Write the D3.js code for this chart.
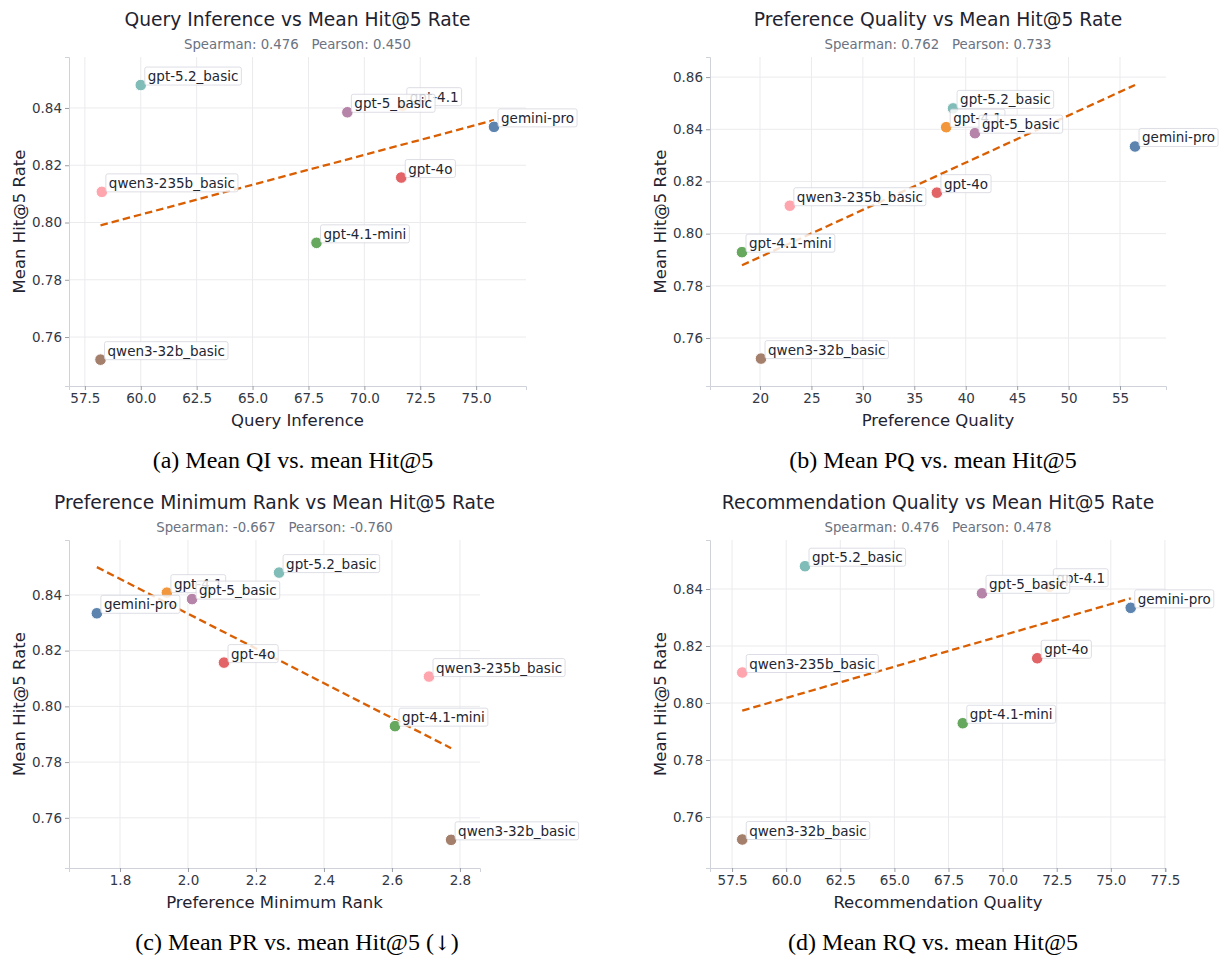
<!DOCTYPE html>
<html>
<head>
<meta charset="utf-8">
<script src="https://cdn.jsdelivr.net/npm/d3@7"></script>
<style>
  body { margin: 0; background: #fff; }
  text { font-family: "DejaVu Sans", sans-serif; }
</style>
</head>
<body>
<svg id="fig" width="1220" height="956"></svg>
<script>
// models, in drawing order (gpt-4.1 label sits under gpt-5_basic)
var models = ["gpt-5.2_basic", "gpt-4.1", "gpt-5_basic", "gemini-pro", "gpt-4o",
              "qwen3-235b_basic", "gpt-4.1-mini", "qwen3-32b_basic"];
var modelColors = ["#76b7b2", "#f28e2b", "#b07aa1", "#4e79a7", "#e15759",
                   "#ff9da7", "#59a14f", "#9c755f"];

var meanHit5 = [0.848, 0.8408, 0.8385, 0.8334, 0.8157, 0.8107, 0.7929, 0.7521];
var queryInference = [60.0, 71.72, 69.24, 75.8, 71.65, 58.26, 67.86, 58.2];
var prefQuality = [38.77, 38.1, 40.9, 56.46, 37.2, 22.9, 18.25, 20.1];
var prefMinRank = [2.268, 1.938, 2.012, 1.732, 2.106, 2.709, 2.609, 2.774];
var recQuality = [60.87, 72.16, 69.05, 75.92, 71.6, 57.97, 68.16, 57.97];

var ticksQI = [57.5, 60, 62.5, 65, 67.5, 70, 72.5, 75];
var ticksPQ = [20, 25, 30, 35, 40, 45, 50, 55];
var ticksPR = [1.8, 2.0, 2.2, 2.4, 2.6, 2.8];
var ticksRQ = [57.5, 60, 62.5, 65, 67.5, 70, 72.5, 75, 77.5];
var ticksHit = [0.76, 0.78, 0.80, 0.82, 0.84];
var ticksHitB = [0.76, 0.78, 0.80, 0.82, 0.84, 0.86];

var panels = [
  { title: "Query Inference vs Mean Hit@5 Rate", sub: "Spearman: 0.476   Pearson: 0.450",
    xlabel: "Query Inference", caption: "(a) Mean QI vs. mean Hit@5", arrow: false,
    xs: queryInference, xticks: ticksQI, yticks: ticksHit, xfmt: ".1f",
    box: [69, 526, 57, 386], xdom: [56.79, 77.23], ydom: [0.7429, 0.8578], capX: 293 },
  { title: "Preference Quality vs Mean Hit@5 Rate", sub: "Spearman: 0.762   Pearson: 0.733",
    xlabel: "Preference Quality", caption: "(b) Mean PQ vs. mean Hit@5", arrow: false,
    xs: prefQuality, xticks: ticksPQ, yticks: ticksHitB, xfmt: "d",
    box: [710, 1166, 57, 386], xdom: [15.14, 59.47], ydom: [0.7416, 0.8677], capX: 933 },
  { title: "Preference Minimum Rank vs Mean Hit@5 Rate", sub: "Spearman: -0.667   Pearson: -0.760",
    xlabel: "Preference Minimum Rank", caption: "(c) Mean PR vs. mean Hit@5 ", arrow: true,
    xs: prefMinRank, xticks: ticksPR, yticks: ticksHit, xfmt: ".1f",
    box: [69, 480, 540, 868], xdom: [1.65, 2.859], ydom: [0.742, 0.8597], capX: 297 },
  { title: "Recommendation Quality vs Mean Hit@5 Rate", sub: "Spearman: 0.476   Pearson: 0.478",
    xlabel: "Recommendation Quality", caption: "(d) Mean RQ vs. mean Hit@5", arrow: false,
    xs: recQuality, xticks: ticksRQ, yticks: ticksHit, xfmt: ".1f",
    box: [710, 1166, 540, 868], xdom: [56.48, 77.55], ydom: [0.7421, 0.8572], capX: 933 }
];

var svg = d3.select("#fig");

function fit(xs, ys) {
  var mx = d3.mean(xs), my = d3.mean(ys);
  var num = d3.sum(xs, function(x, i) { return (x - mx) * (ys[i] - my); });
  var den = d3.sum(xs, function(x) { return (x - mx) * (x - mx); });
  var b = num / den;
  return function(x) { return my + b * (x - mx); };
}

panels.forEach(function(p) {
  var L = p.box[0], R = p.box[1], T = p.box[2], B = p.box[3];
  var cx = (L + R) / 2;
  var x = d3.scaleLinear().domain(p.xdom).range([L, R]);
  var y = d3.scaleLinear().domain(p.ydom).range([B, T]);
  var g = svg.append("g");

  // grid
  g.selectAll(".gx").data(p.xticks).enter().append("line")
    .attr("x1", function(d) { return x(d); }).attr("x2", function(d) { return x(d); })
    .attr("y1", T).attr("y2", B).attr("stroke", "#ebebee").attr("stroke-width", 1);
  g.selectAll(".gy").data(p.yticks).enter().append("line")
    .attr("y1", function(d) { return y(d); }).attr("y2", function(d) { return y(d); })
    .attr("x1", L).attr("x2", R).attr("stroke", "#ebebee").attr("stroke-width", 1);

  // axes
  var xa = g.append("g").attr("transform", "translate(0," + B + ")")
    .call(d3.axisBottom(x).tickValues(p.xticks).tickFormat(d3.format(p.xfmt)).tickSizeOuter(0).tickSize(4).tickPadding(3));
  var ya = g.append("g").attr("transform", "translate(" + L + ",0)")
    .call(d3.axisLeft(y).tickValues(p.yticks).tickFormat(d3.format(".2f")).tickSizeOuter(0).tickSize(4).tickPadding(3));
  [xa, ya].forEach(function(a) {
    a.select(".domain").attr("stroke", "#cfd2d8");
    a.selectAll(".tick line").attr("stroke", "#9a9ea6");
    a.selectAll(".tick text").attr("fill", "#333844").style("font-size", "13.5px")
      .style("font-family", "DejaVu Sans, sans-serif");
  });

  // regression line
  var f = fit(p.xs, meanHit5);
  var x0 = d3.min(p.xs), x1 = d3.max(p.xs);
  g.append("line")
    .attr("x1", x(x0)).attr("y1", y(f(x0))).attr("x2", x(x1)).attr("y2", y(f(x1)))
    .attr("stroke", "#d95f02").attr("stroke-width", 2.3).attr("stroke-dasharray", "7.5,4");

  // points
  g.selectAll(".pt").data(models).enter().append("circle")
    .attr("cx", function(d, i) { return x(p.xs[i]); })
    .attr("cy", function(d, i) { return y(meanHit5[i]); })
    .attr("r", 5.8)
    .attr("fill", function(d, i) { return modelColors[i]; })
    .attr("fill-opacity", 0.92)
    .attr("stroke", "#fff").attr("stroke-width", 1);

  // labels
  models.forEach(function(m, i) {
    var px = x(p.xs[i]), py = y(meanHit5[i]);
    var lg = g.append("g");
    var rect = lg.append("rect");
    var t = lg.append("text").attr("x", px + 7).attr("y", py - 4)
      .style("font-size", "13.5px").attr("fill", "#222631").text(m);
    var bb = t.node().getBBox();
    rect.attr("x", bb.x - 3).attr("y", bb.y - 1).attr("width", bb.width + 6).attr("height", bb.height + 2)
      .attr("rx", 2).attr("fill", "#fff").attr("fill-opacity", 0.82)
      .attr("stroke", "#d4d6de").attr("stroke-width", 0.8);
  });

  // texts
  g.append("text").attr("x", cx).attr("y", T - 31).attr("text-anchor", "middle")
    .style("font-size", "18.7px").attr("fill", "#1f2330").text(p.title);
  g.append("text").attr("x", cx).attr("y", T - 8.5).attr("text-anchor", "middle")
    .style("font-size", "13.3px").attr("fill", "#6b7280").attr("xml:space", "preserve")
    .style("white-space", "pre").text(p.sub);
  g.append("text").attr("x", cx).attr("y", B + 40).attr("text-anchor", "middle")
    .style("font-size", "16.5px").attr("fill", "#1f2330").text(p.xlabel);
  g.append("text").attr("transform", "translate(" + (L - 44) + "," + ((T + B) / 2) + ") rotate(-90)")
    .attr("text-anchor", "middle").style("font-size", "16.5px").attr("fill", "#1f2330").text("Mean Hit@5 Rate");
  var cap = g.append("text").attr("x", p.capX).attr("y", B + 82).attr("text-anchor", "middle")
    .style("font-family", "Liberation Serif, Times New Roman, serif").style("font-size", "24px")
    .attr("fill", "#000").attr("xml:space", "preserve").style("white-space", "pre");
  cap.append("tspan").text(p.caption + (p.arrow ? "(" : ""));
  if (p.arrow) {
    cap.append("tspan").style("font-family", "DejaVu Serif, serif").style("font-size", "20px")
      .attr("fill", "#000").text("\u2193\uFE0E");
    cap.append("tspan").text(")");
  }
});
</script>
</body>
</html>
